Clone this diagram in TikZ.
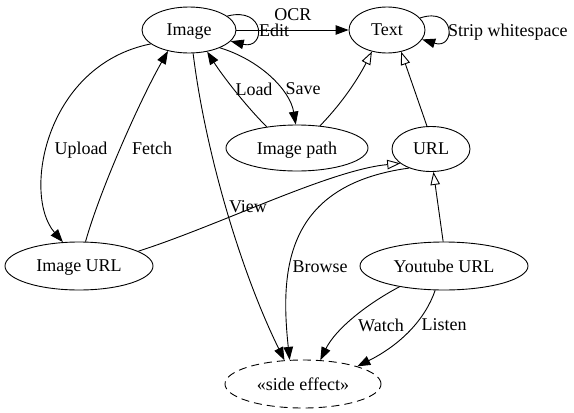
\documentclass[tikz,border=0pt]{standalone}
\usepackage{fontspec}
\setmainfont{Liberation Serif}
\usetikzlibrary{shapes.geometric,arrows.meta}
\begin{document}
\begin{tikzpicture}[x=1pt,y=-1pt, font=\fontsize{18}{21}\selectfont,
  nd/.style={ellipse, draw, line width=0.9pt, inner sep=0pt, text depth=0pt},
  fa/.style={-{Triangle[length=13pt,width=9.5pt]}, line width=0.9pt},
  oa/.style={-{Triangle[open,length=13pt,width=9.5pt]}, line width=0.9pt},
  lbl/.style={inner sep=0pt, text depth=0pt}]
\useasboundingbox (0,0) rectangle (574,413);
% nodes
\node[nd, minimum width=94pt, minimum height=46pt] (img) at (189,30) {Image};
\node[nd, minimum width=76pt, minimum height=46pt] (txt) at (387,30) {Text};
\node[nd, minimum width=142pt, minimum height=46pt] (ip) at (297,148) {Image path};
\node[nd, minimum width=78pt, minimum height=45pt] (url) at (431,149) {URL};
\node[nd, minimum width=148pt, minimum height=48pt] (iurl) at (79,266) {Image URL};
\node[nd, minimum width=168pt, minimum height=48pt] (yt) at (444,266) {Youtube URL};
\node[nd, dash pattern=on 8pt off 5pt, minimum width=156pt, minimum height=48pt] (se) at (303,384) {«side effect»};
% edges
\draw[fa] (img) -- (txt);
\draw[fa] (img.20) .. controls (266,6) and (266,50) .. (img.-15);
\draw[fa] (txt.20) .. controls (456,6) and (456,50) .. (txt.-15);
\draw[fa] (img.200) .. controls (45,65) and (22,195) .. (iurl.124);
\draw[fa] (iurl.75) .. controls (100,190) and (140,100) .. (img.225);
\draw[fa] (ip.145) .. controls (245,105) and (222,75) .. (img.-50);
\draw[fa] (img.-30) .. controls (260,60) and (290,90) .. (ip.93);
\draw[oa] (ip.44) .. controls (345,100) and (360,75) .. (txt.235);
\draw[oa] (url.100) -- (txt.-57);
\draw[oa] (yt.92) -- (url.-84);
\draw[oa] (iurl.14) .. controls (220,225) and (330,170) .. (url.205);
\draw[fa] (img.-80) .. controls (205,150) and (240,270) .. (se.128);
\draw[fa] (url.221) .. controls (285,185) and (280,270) .. (se.119);
\draw[fa] (yt.205) .. controls (365,305) and (335,330) .. (se.54);
\draw[fa] (yt.250) .. controls (425,320) and (400,345) .. (se.18);
% labels
\node[lbl] (locr) at (293,15) {OCR};
\node[lbl, anchor=west] (ledit) at (259,30) {Edit};
\node[lbl, anchor=west] (lstrip) at (448,30) {Strip whitespace};
\node[lbl] (lupload) at (81,148) {Upload};
\node[lbl] (lfetch) at (152,148) {Fetch};
\node[lbl] (lload) at (254,89) {Load};
\node[lbl] (lsave) at (303,89) {Save};
\node[lbl] (lview) at (248,207) {View};
\node[lbl] (lbrowse) at (320,267) {Browse};
\node[lbl] (lwatch) at (381,325) {Watch};
\node[lbl] (llisten) at (444,325) {Listen};
\end{tikzpicture}
\end{document}
